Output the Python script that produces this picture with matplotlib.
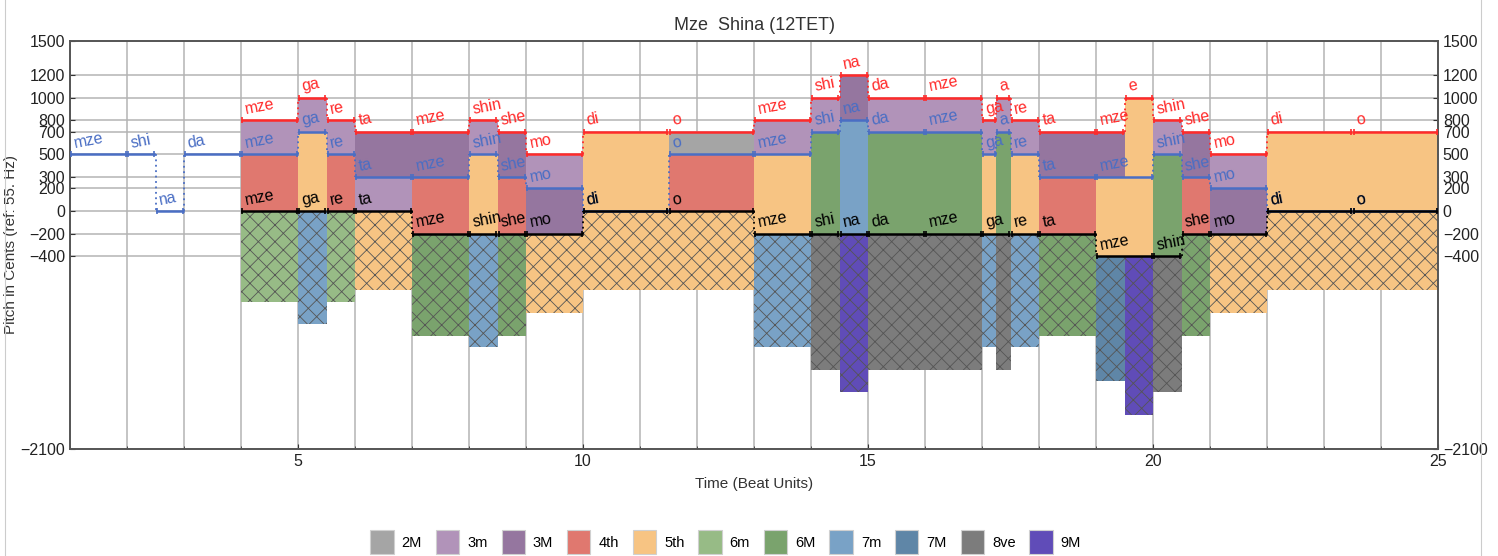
import numpy as np
import matplotlib
matplotlib.use('Agg')
import matplotlib.pyplot as plt
from matplotlib.patches import Patch
from matplotlib.lines import Line2D

plt.rcParams['font.family'] = ['Liberation Sans', 'DejaVu Sans']
plt.rcParams['hatch.linewidth'] = 0.6

# ---- data: three voices (start beat, pitch in cents, syllable) ----
T_END = 25.0

top_start = [4, 5, 5.5, 6, 7, 8, 8.5, 9, 10, 11.5, 13, 14, 14.5, 15, 16,
             17, 17.25, 17.5, 18, 19, 19.5, 20, 20.5, 21, 22, 23.5]
top_pitch = [800, 1000, 800, 700, 700, 800, 700, 500, 700, 700, 800, 1000, 1200, 1000, 1000,
             800, 1000, 800, 700, 700, 1000, 800, 700, 500, 700, 700]
top_syl = ['mze', 'ga', 're', 'ta', 'mze', 'shin', 'she', 'mo', 'di', 'o', 'mze', 'shi', 'na', 'da', 'mze',
           'ga', 'a', 're', 'ta', 'mze', 'e', 'shin', 'she', 'mo', 'di', 'o']

mid_start = [1, 2, 2.5, 3, 4, 5, 5.5, 6, 7, 8, 8.5, 9, 10, 11.5, 13, 14, 14.5, 15, 16,
             17, 17.25, 17.5, 18, 19, 20, 20.5, 21, 22, 23.5]
mid_pitch = [500, 500, 0, 500, 500, 700, 500, 300, 300, 500, 300, 200, 0, 500, 500, 700, 800, 700, 700,
             500, 700, 500, 300, 300, 500, 300, 200, 0, 0]
mid_syl = ['mze', 'shi', 'na', 'da', 'mze', 'ga', 're', 'ta', 'mze', 'shin', 'she', 'mo', 'di', 'o',
           'mze', 'shi', 'na', 'da', 'mze', 'ga', 'a', 're', 'ta', 'mze', 'shin', 'she', 'mo', 'di', 'o']

bot_start = [4, 5, 5.5, 6, 7, 8, 8.5, 9, 10, 11.5, 13, 14, 14.5, 15, 16,
             17, 17.5, 18, 19, 20, 20.5, 21, 22, 23.5]
bot_pitch = [0, 0, 0, 0, -200, -200, -200, -200, 0, 0, -200, -200, -200, -200, -200,
             -200, -200, -200, -400, -400, -200, -200, 0, 0]
bot_syl = ['mze', 'ga', 're', 'ta', 'mze', 'shin', 'she', 'mo', 'di', 'o', 'mze', 'shi', 'na', 'da', 'mze',
           'ga', 're', 'ta', 'mze', 'shin', 'she', 'mo', 'di', 'o']

# interval names / colours
iv_names = ['2M', '3m', '3M', '4th', '5th', '6m', '6M', '7m', '7M', '8ve', '9M']
iv_cents = [200, 300, 400, 500, 700, 800, 900, 1000, 1100, 1200, 1400]
iv_colors = ['#a5a5a5', '#b193b9', '#95769f', '#e0786f', '#f7c483', '#97bb86',
             '#7aa36d', '#79a2c6', '#5f86a7', '#7c7c7c', '#604cb8']
cmap = dict(zip(iv_cents, iv_colors))

y_ticks = [1500, 1200, 1000, 800, 700, 500, 300, 200, 0, -200, -400, -2100]

RED = '#ff2a2a'
BLUE = '#4a6ec4'


def pitch_at(starts, pitches, t):
    idx = np.searchsorted(starts, t, side='right') - 1
    return pitches[idx]


fig = plt.figure(figsize=(14.98, 5.56), dpi=100)
ax = fig.add_axes([70 / 1498, 1 - 449 / 556, (1438 - 70) / 1498, (449 - 41) / 556])

# ---- filled interval blocks ----
edges = sorted(set(top_start) | set(bot_start) | set([s for s in mid_start if s >= 4]) | {T_END})
for a, b in zip(edges[:-1], edges[1:]):
    tp = pitch_at(top_start, top_pitch, a)
    mp = pitch_at(mid_start, mid_pitch, a)
    bp = pitch_at(bot_start, bot_pitch, a)
    if mp - bp > 0:
        ax.fill_between([a, b], bp, mp, color=cmap[mp - bp], lw=0, zorder=1)
    if tp - mp > 0:
        ax.fill_between([a, b], mp, tp, color=cmap[tp - mp], lw=0, zorder=1)
    span = tp - bp
    ax.fill_between([a, b], bp - span, bp, facecolor=cmap[span], edgecolor='#555555',
                    hatch='xx', lw=0, zorder=1)

# ---- voice lines + labels ----
for starts, pitches, syls, col in [(mid_start, mid_pitch, mid_syl, BLUE),
                                   (top_start, top_pitch, top_syl, RED),
                                   (bot_start, bot_pitch, bot_syl, 'black')]:
    ends = list(starts[1:]) + [T_END]
    for i, (s, e, p, syl) in enumerate(zip(starts, ends, pitches, syls)):
        ax.plot([s + 0.02, e - 0.02], [p, p], color=col, lw=1.8, zorder=3,
                marker='|', markersize=4, markeredgewidth=1.2)
        ax.text(s + 0.09, p + 30, syl, color=col, fontsize=11.5, rotation=11,
                rotation_mode='anchor', ha='left', va='bottom', zorder=4)
        if i > 0 and pitches[i - 1] != p and ends[i - 1] == s:
            ax.plot([s, s], [pitches[i - 1], p], color=col, lw=1.3, ls=(0, (1, 2)), zorder=3)

# ---- axes ----
ax.set_xlim(1, 25)
ax.set_ylim(-2100, 1500)
ax.set_xticks([5, 10, 15, 20, 25])
ax.set_xticks(np.arange(1, 26), minor=True)
ax.set_yticks(y_ticks)
ax.grid(True, which='both', axis='x', color='#b4b4b4', lw=1.1, zorder=0)
ax.grid(True, which='major', axis='y', color='#b4b4b4', lw=1.1, zorder=0)
ax.set_axisbelow(True)
ax.tick_params(axis='both', which='both', direction='in', labelsize=11.5, colors='#333333',
               labelcolor='#222222')
ax.tick_params(axis='y', right=True, labelright=True)
ax.set_yticklabels([str(v).replace('-', '\u2212') for v in y_ticks])
for sp in ax.spines.values():
    sp.set_color('#555555')
    sp.set_linewidth(1.4)

ax.set_title('Mze  Shina (12TET)', fontsize=13, color='#333333', pad=8)
ax.set_xlabel('Time (Beat Units)', fontsize=11, color='#333333', labelpad=6)
ax.set_ylabel('Pitch in Cents (ref: 55. Hz)', fontsize=11, color='#333333', labelpad=2)

# legend
handles = [Patch(facecolor=c, edgecolor='#d0d0d0', lw=0.8) for c in iv_colors]
fig.legend(handles, iv_names, loc='center', bbox_to_anchor=(0.4845, 0.025), ncol=11,
           frameon=False, handlelength=1.6, handleheight=2.1, handletextpad=0.55,
           columnspacing=0.95, fontsize=10.5)

# faint frame lines at the figure edges
fig.add_artist(Line2D([5 / 1498, 5 / 1498], [0, 1], color='#cccccc', lw=0.8))
fig.add_artist(Line2D([1481 / 1498, 1481 / 1498], [0, 1], color='#cccccc', lw=0.8))

fig.savefig('out.png', dpi=100)
